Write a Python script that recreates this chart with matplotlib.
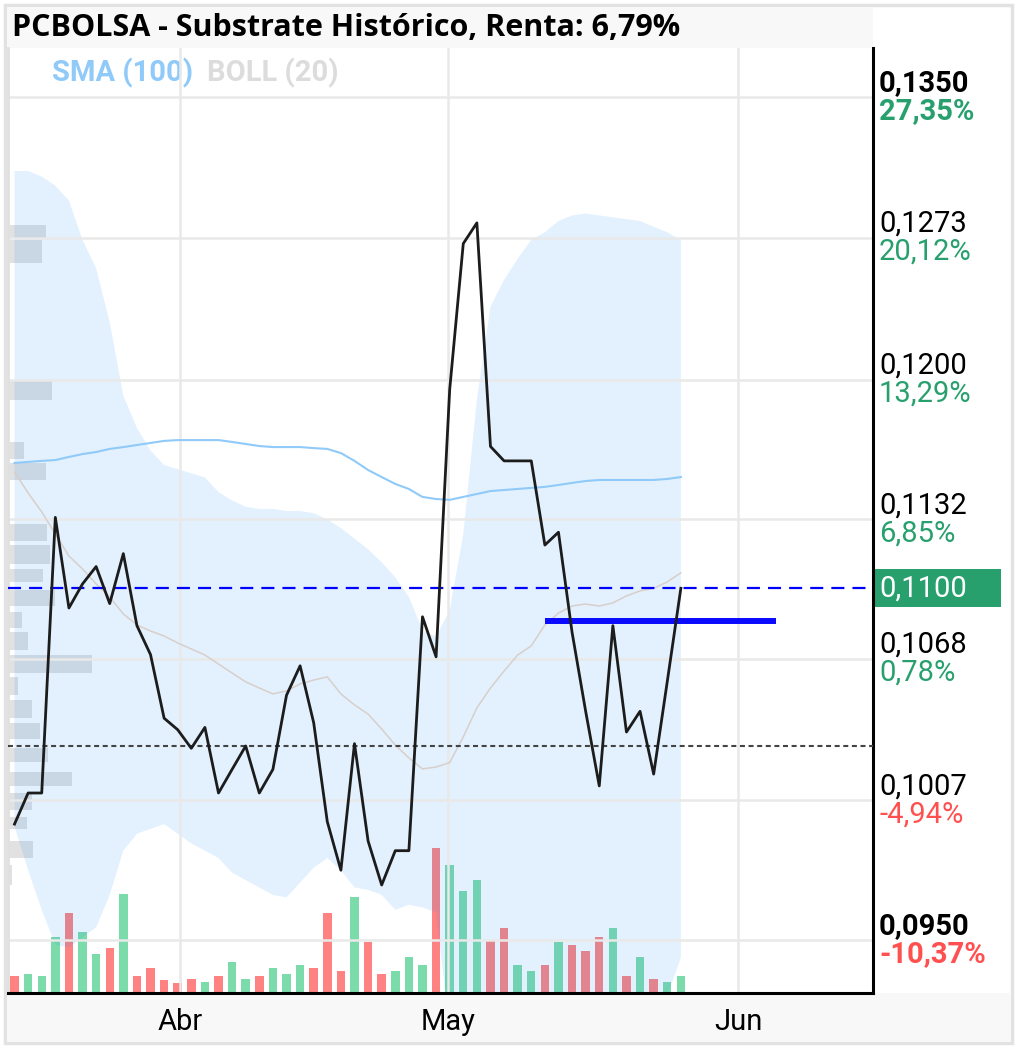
import matplotlib
matplotlib.use("Agg")
import matplotlib.pyplot as plt
from matplotlib.patches import Rectangle
from matplotlib.ticker import NullLocator
from matplotlib.transforms import IdentityTransform, blended_transform_factory

plt.rcParams["lines.scale_dashes"] = False

# --- datos ---
title = "PCBOLSA - Substrate Histórico, Renta: 6,79%"

price = [0.0997, 0.1010, 0.1010, 0.1133, 0.1091, 0.1102, 0.1110, 0.1093, 0.1116, 0.1083,
         0.1070, 0.1042, 0.1037, 0.1029, 0.1038, 0.1010, 0.1020, 0.1030, 0.1010, 0.1020,
         0.1052, 0.1065, 0.1040, 0.0998, 0.0978, 0.1031, 0.0990, 0.0972, 0.0986, 0.0986,
         0.1087, 0.1069, 0.1195, 0.1270, 0.1281, 0.1167, 0.1160, 0.1160, 0.1160, 0.1120,
         0.1126, 0.1080, 0.1045, 0.1013, 0.1083, 0.1036, 0.1045, 0.1018, 0.1058, 0.1100]

sma100 = [0.11590, 0.11595, 0.11600, 0.11604, 0.11619, 0.11633, 0.11643, 0.11658, 0.11667, 0.11677,
          0.11687, 0.11697, 0.11701, 0.11701, 0.11701, 0.11701, 0.11692, 0.11682, 0.11672, 0.11667,
          0.11667, 0.11667, 0.11662, 0.11658, 0.11638, 0.11600, 0.11556, 0.11522, 0.11489, 0.11465,
          0.11427, 0.11417, 0.11413, 0.11427, 0.11441, 0.11455, 0.11460, 0.11465, 0.11470, 0.11475,
          0.11484, 0.11494, 0.11503, 0.11508, 0.11508, 0.11508, 0.11508, 0.11508, 0.11513, 0.11522]

boll_up = [0.1309, 0.1309, 0.1306, 0.1301, 0.1293, 0.1272, 0.1257, 0.1229, 0.1192, 0.1176,
           0.1165, 0.1158, 0.1156, 0.1154, 0.1152, 0.1145, 0.1141, 0.1138, 0.1137, 0.1137,
           0.1136, 0.1136, 0.1135, 0.1132, 0.1128, 0.1123, 0.1118, 0.1112, 0.1105, 0.1096,
           0.1081, 0.1078, 0.1090, 0.1125, 0.1190, 0.1237, 0.1251, 0.1262, 0.1272, 0.1276,
           0.1282, 0.1285, 0.1286, 0.1285, 0.1284, 0.1283, 0.1282, 0.1279, 0.1276, 0.1272]

boll_mid = [0.11546, 0.11446, 0.11356, 0.11252, 0.11149, 0.11089, 0.11020, 0.10960, 0.10883, 0.10833,
            0.10806, 0.10783, 0.10752, 0.10725, 0.10698, 0.10658, 0.10618, 0.10579, 0.10552, 0.10526,
            0.10539, 0.10570, 0.10587, 0.10601, 0.10526, 0.10478, 0.10438, 0.10373, 0.10304, 0.10249,
            0.10202, 0.10210, 0.10229, 0.10339, 0.10465, 0.10552, 0.10627, 0.10698, 0.10739, 0.10833,
            0.10887, 0.10919, 0.10928, 0.10919, 0.10933, 0.10965, 0.10988, 0.11000, 0.11029, 0.11071]

boll_low = [0.0996, 0.0978, 0.0962, 0.0948, 0.0947, 0.0951, 0.0955, 0.0968, 0.0986, 0.0993,
            0.0995, 0.0997, 0.0993, 0.0989, 0.0986, 0.0983, 0.0977, 0.0974, 0.0971, 0.0968,
            0.0967, 0.0973, 0.0979, 0.0983, 0.0978, 0.0971, 0.0970, 0.0968, 0.0962, 0.0964,
            0.0963, 0.0961, 0.0915, 0.0885, 0.0850, 0.0835, 0.0830, 0.0830, 0.0840, 0.0850,
            0.0860, 0.0870, 0.0880, 0.0890, 0.0895, 0.0900, 0.0910, 0.0920, 0.0928, 0.0943]

volume = [17, 19, 17, 56, 80, 61, 39, 45, 99, 17,
          25, 13, 10, 14, 11, 17, 31, 14, 17, 25,
          19, 28, 25, 80, 22, 96, 51, 19, 22, 36,
          28, 145, 128, 102, 113, 53, 65, 28, 22, 28,
          51, 48, 42, 56, 65, 17, 36, 14, 11, 17]
vol_dir = ["d", "u", "u", "u", "d", "u", "u", "d", "u", "d",
           "d", "d", "d", "d", "u", "d", "u", "u", "d", "u",
           "u", "u", "d", "d", "d", "u", "d", "d", "u", "u",
           "u", "d", "u", "u", "u", "d", "d", "u", "u", "d",
           "u", "d", "d", "d", "u", "d", "u", "d", "u", "u"]

# perfil de volumen por precio
prof_lo = [0.1273, 0.1260, 0.1190, 0.1161, 0.1151, 0.1122, 0.1111, 0.1103, 0.1092, 0.1082,
           0.1072, 0.1062, 0.1052, 0.1042, 0.1033, 0.1023, 0.1013, 0.1003, 0.0995, 0.0983,
           0.0972]
prof_hi = [0.1280, 0.1272, 0.1200, 0.1169, 0.1159, 0.1130, 0.1120, 0.1109, 0.1099, 0.1089,
           0.1080, 0.1070, 0.1060, 0.1050, 0.1040, 0.1029, 0.1019, 0.1010, 0.1000, 0.0990,
           0.0980]
prof_vol = [38, 34, 44, 16, 38, 39, 42, 35, 47, 14,
            20, 84, 10, 24, 32, 40, 64, 24, 19, 25,
            4]

price_ticks = [0.1350, 0.1273, 0.1200, 0.1132, 0.1068, 0.1007, 0.0950]
pct_labels = ["27,35%", "20,12%", "13,29%", "6,85%", "0,78%", "-4,94%", "-10,37%"]
month_pos = [12.2, 31.9, 53.2]
month_labels = ["Abr", "May", "Jun"]

last_price = 0.1100
avg_price = 0.1030
target_price = 0.1085
target_from, target_to = 39, 56

# --- estilo ---
GREEN = "#28a06e"
RED = "#ff5050"
W, H = 1017, 1048

fig = plt.figure(figsize=(W / 100, H / 100), dpi=100)
fig.patch.set_facecolor("white")

# marcos de fondo (por debajo de los ejes)
fig.add_artist(Rectangle((5 / W, 1 - 1043 / H), 1007 / W, 1038 / H, transform=fig.transFigure,
                         fill=False, ec="#e2e2e2", lw=2.5, zorder=-5))
fig.add_artist(Rectangle((7 / W, 1 - 48 / H), 866 / W, 41 / H, transform=fig.transFigure,
                         fc="#f8f8f8", ec="none", zorder=-5))
fig.add_artist(Rectangle((7 / W, 1 - 1042 / H), 1004 / W, 49 / H, transform=fig.transFigure,
                         fc="#f8f8f8", ec="none", zorder=-5))

rect = [8 / W, (H - 993) / H, 865 / W, 945 / H]
x = list(range(len(price)))
xlim = (-0.48, 63.13)
ylim = (0.09292, 0.13779)

# volumen (debajo)
ax_vol = fig.add_axes(rect, zorder=1)
ax_vol.bar(x, volume, width=0.62,
           color=["#45cd86" if d == "u" else "#ff4d4d" for d in vol_dir], alpha=0.7)
ax_vol.set_xlim(*xlim)
ax_vol.set_ylim(0, 945)
ax_vol.axis("off")

# perfil de volumen
ax_prof = fig.add_axes(rect, zorder=2)
ax_prof.set_yscale("log")
ax_prof.barh(prof_lo, prof_vol, height=[h - l for l, h in zip(prof_lo, prof_hi)],
             align="edge", color="#bdbdbd", alpha=0.45)
ax_prof.set_xlim(0, 865)
ax_prof.set_ylim(*ylim)
ax_prof.axis("off")

# precio
ax = fig.add_axes(rect, zorder=4)
ax.patch.set_alpha(0)
ax.set_yscale("log")
ax.set_xlim(*xlim)
ax.set_ylim(*ylim)

ax.fill_between(x, boll_low, boll_up, color="#2196f3", alpha=0.13, lw=0, zorder=1)
ax.plot(x, boll_mid, color="#d8cfca", lw=1.1, zorder=2)
ax.plot(x, sma100, color="#90caf9", lw=1.5, zorder=2)
ax.axhline(avg_price, color="#444444", lw=1.5, ls=(0, (3.6, 2.6)), zorder=3)
ax.axhline(last_price, color="#0000ff", lw=1.6, ls=(0, (9.4, 5.8)), zorder=3)
ax.plot([target_from, target_to], [target_price, target_price], color="#0a0aff", lw=4.3,
        solid_capstyle="butt", zorder=3)
ax.plot(x, price, color="#1c1c1c", lw=2.0, zorder=4)

ax.set_yticks(price_ticks)
ax.yaxis.set_minor_locator(NullLocator())
ax.set_yticklabels([])
ax.set_xticks(month_pos)
ax.set_xticklabels(month_labels, family="Roboto", fontsize=21)
ax.tick_params(axis="both", length=0)
ax.tick_params(axis="x", pad=11)
ax.grid(True, color="#e9e9e9", lw=1.8, zorder=0)

ax.spines["top"].set_visible(False)
ax.spines["left"].set_color("#e0e0e0")
ax.spines["left"].set_linewidth(2)
ax.spines["bottom"].set_linewidth(2.2)
ax.spines["right"].set_linewidth(2.2)

# etiquetas del eje de precios
trans = blended_transform_factory(ax.transAxes, ax.transData)
for k, (v, pct) in enumerate(zip(price_ticks, pct_labels)):
    w = "bold" if k in (0, len(price_ticks) - 1) else "normal"
    ax.annotate(f"{v:.4f}".replace(".", ","), xy=(1, v), xycoords=trans,
                xytext=(6, 14), textcoords="offset pixels", va="center", ha="left",
                family="Roboto", fontsize=21, fontweight=w, color="black", annotation_clip=False)
    ax.annotate(pct, xy=(1, v), xycoords=trans,
                xytext=(6, -14), textcoords="offset pixels", va="center", ha="left",
                family="Roboto", fontsize=21, fontweight=w,
                color=RED if pct.startswith("-") else GREEN, annotation_clip=False)

# caja del ultimo precio
y_px = ax.transData.transform((0, last_price))[1]
x_px = ax.transAxes.transform((1, 0))[0]
fig.add_artist(Rectangle((x_px - 1, y_px - 19), 129, 38, transform=IdentityTransform(),
                         fc=GREEN, ec="none", zorder=3))
ax.annotate(f"{last_price:.4f}".replace(".", ","), xy=(1, last_price), xycoords=trans,
            xytext=(6, 0), textcoords="offset pixels", va="center", ha="left",
            family="Roboto", fontsize=21, color="white", annotation_clip=False)

# titulo y leyenda
fig.text(12 / W, 1 - 28 / H, title, family="Open Sans", fontweight="bold", fontsize=22,
         va="center", ha="left")
fig.text(52 / W, 1 - 73 / H, "SMA (100)", family="Roboto", fontweight="bold",
         fontsize=21, color="#90caf9", va="center", ha="left")
fig.text(207 / W, 1 - 73 / H, "BOLL (20)", family="Roboto", fontweight="bold",
         fontsize=21, color="#dcdcdc", va="center", ha="left")

fig.savefig("out.png", dpi=100)
